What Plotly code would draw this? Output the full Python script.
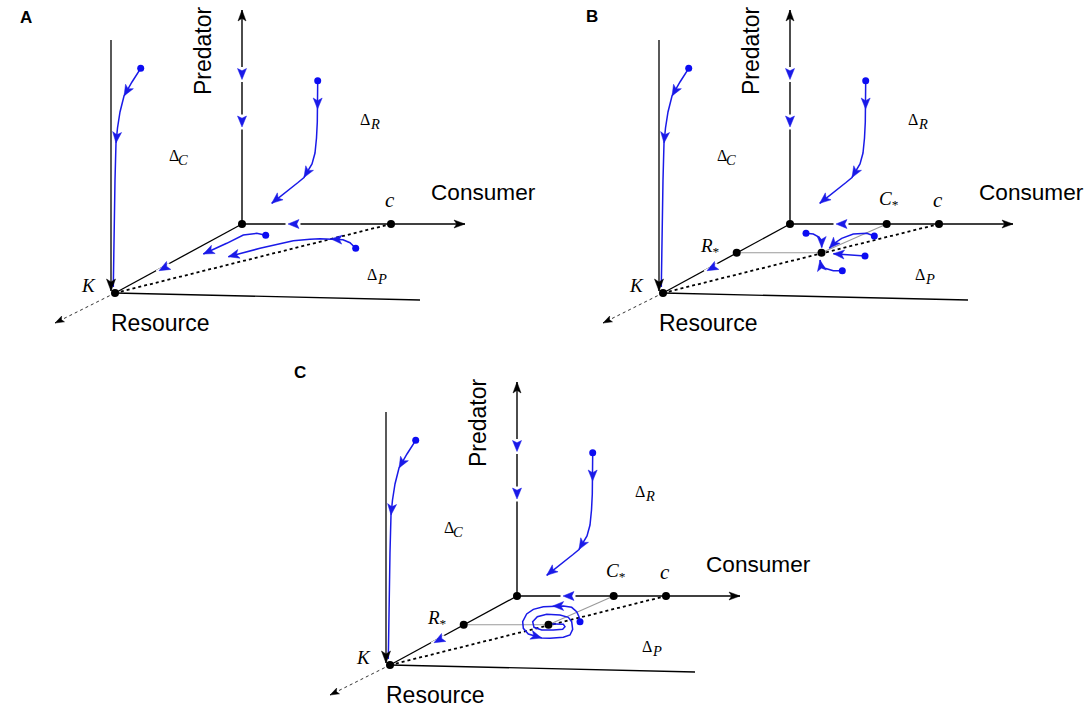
import math
import plotly.graph_objects as go

# ---------------- schematic data (panel-A pixel frame) ----------------
origin = (242, 224)
predator_top = (242, 10)
consumer_end = (465, 224)
K_point = (115, 293)
c_point = (391, 224)
resource_ext = (55, 323)
floor_end = (420, 300)
wall_top = (111, 40)
wall_bot = (111, 291)
R_star = (188.7, 252.7)
C_star = (338.7, 224)
equilibrium = (273.5, 252.8)

# blue arrowheads sitting on the axes: tip x, tip y, direction x, direction y
axis_arrow_x = [242, 242, 288, 159]
axis_arrow_y = [79.5, 127, 224, 270.7]
axis_arrow_ux = [0, 0, -1, -127]
axis_arrow_uy = [1, 1, 0, 69]

# trajectories (x list, y list, arrow vertex indices)
traj_dc_x = [140.7, 132, 124, 120, 117.5, 116, 115, 114, 113.3]
traj_dc_y = [68.3, 82, 96, 112, 128, 143, 180, 240, 287]
traj_dc_arrows = [2, 5]

traj_dr_x = [317.7, 317.7, 317.6, 317.3, 316.5, 315, 312, 304, 298, 290, 280, 271.7]
traj_dr_y = [80.7, 92, 109, 122, 138, 153, 164, 177.5, 182.5, 189, 196.5, 203.3]
traj_dr_arrows = [2, 7, 11]

traj_a3_x = [265.7, 256.7, 243.3, 226.7, 203.3]
traj_a3_y = [235.3, 233.3, 235, 243.3, 254]
traj_a3_arrows = [4]

traj_a4_x = [355.7, 350, 343, 331, 320, 310, 293.3, 260, 228.3]
traj_a4_y = [248.3, 242.7, 239.7, 238.9, 238.7, 239.3, 240.7, 248.3, 256.7]
traj_a4_arrows = [3, 8]

# panel B: trajectories converging to the interior equilibrium
eq1_x = [258, 265.3, 271.3, 273.7, 273.7]
eq1_y = [233.3, 234, 237.3, 243.3, 247.5]
eq2_x = [326.3, 318.7, 305.3, 293.7, 285.3, 281.3]
eq2_y = [236, 233.3, 234, 238.3, 244, 248.3]
eq3_x = [317, 298.7, 285.3]
eq3_y = [256, 254.7, 253.7]
eq4_x = [294.3, 285.3, 277, 272.7, 272]
eq4_y = [270.7, 270.7, 268.3, 264, 260]

# panel C: spiral into the equilibrium (zoomed units, 1/3 px)
spiral_zx = [210, 207, 200, 185, 160, 128, 100, 70, 50, 38, 40, 55, 95, 120, 160, 180, 188,
             185, 175, 150, 110, 82, 68, 72, 95, 130, 158, 165, 160, 135, 115]
spiral_zy = [95, 80, 65, 52, 48, 48, 50, 58, 72, 95, 115, 132, 144, 145, 142, 135, 118,
             95, 82, 75, 73, 80, 95, 112, 120, 120, 118, 110, 103, 102, 102]
spiral_arrows = [5, 12]

# region labels: Greek symbol, subscript letter
region_subs = ["C", "R", "P"]

# ---------------- layout constants ----------------
W, H = 1084, 709
panel_dx = [0, 548, 275]
panel_dy = [0, 0, 372]
panel_letters = ["A", "B", "C"]
letter_pos = [(26, 17), (592, 16), (300, 372)]
region_delta_pos = [(173.5, 155.5), (365, 119.5), (372, 274.5)]
region_sub_pos = [(182.5, 159.5), (375, 123.5), (382, 278.5)]

BLUE = "#1a1ae8"
BLUE_DOT = "#0c0cf2"
BLACK = "#000000"
GREY = "#9a9a9a"
SANS = "Liberation Sans, Arial, sans-serif"
SERIF = "Liberation Serif, Times New Roman, serif"

struct_traces, other_traces = [], []
black_tri_x, black_tri_y = [], []
blue_tri_x, blue_tri_y = [], []
gap_x, gap_y = [], []
annotations = []


def line(xs, ys, color, width, dash=None, store=None):
    t = go.Scatter(x=list(xs), y=list(ys), mode="lines",
                   line=dict(color=color, width=width, dash=dash),
                   hoverinfo="skip", showlegend=False)
    (store if store is not None else other_traces).append(t)


def head(store_x, store_y, tx, ty, ux, uy, L=11, Wd=4.5, notch=0.75):
    n = math.hypot(ux, uy)
    ux, uy = ux / n, uy / n
    nx, ny = -uy, ux
    bx, by = tx - L * ux, ty - L * uy
    mx, my = tx - notch * L * ux, ty - notch * L * uy
    store_x.extend([tx, bx + Wd * nx, mx, bx - Wd * nx, tx, None])
    store_y.extend([ty, by + Wd * ny, my, by - Wd * ny, ty, None])


def dots(xs, ys, color, size):
    other_traces.append(go.Scatter(x=list(xs), y=list(ys), mode="markers",
                                   marker=dict(color=color, size=size, line=dict(width=0)),
                                   hoverinfo="skip", showlegend=False))


def traj(xs, ys, arrows, dx, dy):
    X = [v + dx for v in xs]
    Y = [v + dy for v in ys]
    line(X, Y, BLUE, 1.5)
    dots([X[0]], [Y[0]], BLUE_DOT, 7)
    for i in arrows:
        head(blue_tri_x, blue_tri_y, X[i], Y[i], X[i] - X[i - 1], Y[i] - Y[i - 1])


def text(x, y, s, size, family, **kw):
    d = dict(x=x, y=y, text=s, showarrow=False, xref="x", yref="y",
             font=dict(size=size, family=family, color=BLACK),
             xanchor="center", yanchor="middle")
    d.update(kw)
    annotations.append(d)


def P(p, dx, dy):
    return (p[0] + dx, p[1] + dy)


for k in range(3):
    dx, dy = panel_dx[k], panel_dy[k]
    O = P(origin, dx, dy)
    Kp = P(K_point, dx, dy)
    cp = P(c_point, dx, dy)
    S = struct_traces
    # axes & frame lines
    line([O[0], predator_top[0] + dx], [O[1], predator_top[1] + dy], BLACK, 1.4, store=S)
    line([O[0], consumer_end[0] + dx], [O[1], consumer_end[1] + dy], BLACK, 1.4, store=S)
    line([O[0], Kp[0]], [O[1], Kp[1]], BLACK, 1.3, store=S)
    line([Kp[0], resource_ext[0] + dx], [Kp[1], resource_ext[1] + dy], "#333333", 1.0, "dot", store=S)
    line([Kp[0], cp[0]], [Kp[1], cp[1]], BLACK, 1.8, "dot", store=S)
    line([Kp[0], floor_end[0] + dx], [Kp[1], floor_end[1] + dy], BLACK, 1.3, store=S)
    line([wall_top[0] + dx, wall_bot[0] + dx], [wall_top[1] + dy, wall_bot[1] + dy], BLACK, 1.3, store=S)
    # black arrowheads
    head(black_tri_x, black_tri_y, predator_top[0] + dx, predator_top[1] + dy, 0, -1, L=11, Wd=4)
    head(black_tri_x, black_tri_y, consumer_end[0] + dx, consumer_end[1] + dy, 1, 0, L=11, Wd=4)
    head(black_tri_x, black_tri_y, resource_ext[0] + dx, resource_ext[1] + dy,
         resource_ext[0] - K_point[0], resource_ext[1] - K_point[1], L=9, Wd=3.2, notch=0.8)
    head(black_tri_x, black_tri_y, wall_bot[0] + dx, wall_bot[1] + dy, 0, 1, L=12, Wd=4.5)
    # blue arrowheads on axes, with the small breaks of the axis line around them
    for i in range(len(axis_arrow_x)):
        tx, ty = axis_arrow_x[i] + dx, axis_arrow_y[i] + dy
        ux, uy = axis_arrow_ux[i], axis_arrow_uy[i]
        n = math.hypot(ux, uy)
        ux, uy = ux / n, uy / n
        gap_x.extend([tx + 2.5 * ux, tx - 12.5 * ux, None])
        gap_y.extend([ty + 2.5 * uy, ty - 12.5 * uy, None])
        head(blue_tri_x, blue_tri_y, tx, ty, ux, uy, notch=0.8)
    # common trajectories
    traj(traj_dc_x, traj_dc_y, traj_dc_arrows, dx, dy)
    traj(traj_dr_x, traj_dr_y, traj_dr_arrows, dx, dy)
    if k == 0:
        traj(traj_a3_x, traj_a3_y, traj_a3_arrows, dx, dy)
        traj(traj_a4_x, traj_a4_y, traj_a4_arrows, dx, dy)
    else:
        Rs = P(R_star, dx, dy)
        Cs = P(C_star, dx, dy)
        E = P(equilibrium, dx, dy)
        line([Rs[0], E[0]], [Rs[1], E[1]], GREY, 1.1)
        line([E[0], Cs[0]], [E[1], Cs[1]], GREY, 1.1)
        if k == 1:
            for ex, ey in [(eq1_x, eq1_y), (eq2_x, eq2_y), (eq3_x, eq3_y), (eq4_x, eq4_y)]:
                traj(ex, ey, [len(ex) - 1], dx, dy)
        else:
            sx = [v / 3 + 235 for v in spiral_zx]
            sy = [v / 3 + 218 for v in spiral_zy]
            traj(sx, sy, spiral_arrows, dx, dy)
        dots([Rs[0], Cs[0], E[0]], [Rs[1], Cs[1], E[1]], BLACK, 8)
        text(162 + dx, 247 + dy, "<i>R</i><sub>*</sub>", 19, SERIF)
        text(341 + dx, 200 + dy, "<i>C</i><sub>*</sub>", 19, SERIF)
    dots([O[0], Kp[0], cp[0]], [O[1], Kp[1], cp[1]], BLACK, 8)
    # labels
    text(203 + dx, 51 + dy, "Predator", 23, SANS, textangle=-90)
    text(429 + dx, 192 + dy, "Consumer", 22.6, SANS, xanchor="left")
    text(160 + dx, 323 + dy, "Resource", 23, SANS)
    for j, sub in enumerate(region_subs):
        text(region_delta_pos[j][0] + dx, region_delta_pos[j][1] + dy, "Δ", 16, SERIF)
        text(region_sub_pos[j][0] + dx, region_sub_pos[j][1] + dy, "<i>" + sub + "</i>", 14.5, SERIF)
    text(88 + dx, 285 + dy, "<i>K</i>", 19, SERIF)
    text(390 + dx, 200 + dy, "<i>c</i>", 21, SERIF)
    lx, ly = letter_pos[k]
    text(lx, ly, "<b>" + panel_letters[k] + "</b>", 17, SANS)

fig = go.Figure()
for t in struct_traces:
    fig.add_trace(t)
fig.add_trace(go.Scatter(x=gap_x, y=gap_y, mode="lines", line=dict(color="white", width=4),
                         hoverinfo="skip", showlegend=False))
for t in other_traces:
    fig.add_trace(t)
fig.add_trace(go.Scatter(x=black_tri_x, y=black_tri_y, mode="lines", fill="toself",
                         fillcolor=BLACK, line=dict(color=BLACK, width=0.5),
                         hoverinfo="skip", showlegend=False))
fig.add_trace(go.Scatter(x=blue_tri_x, y=blue_tri_y, mode="lines", fill="toself",
                         fillcolor=BLUE, line=dict(color=BLUE, width=0.5),
                         hoverinfo="skip", showlegend=False))

fig.update_layout(
    width=W, height=H, autosize=False,
    margin=dict(l=0, r=0, t=0, b=0, pad=0),
    paper_bgcolor="white", plot_bgcolor="white",
    xaxis=dict(range=[0, W], visible=False, fixedrange=True),
    yaxis=dict(range=[H, 0], visible=False, fixedrange=True),
    annotations=annotations,
    showlegend=False,
)
fig.write_html("out.html",
               config={"displayModeBar": False},
               post_script="document.body.style.margin='0px';document.body.style.overflow='hidden';")
